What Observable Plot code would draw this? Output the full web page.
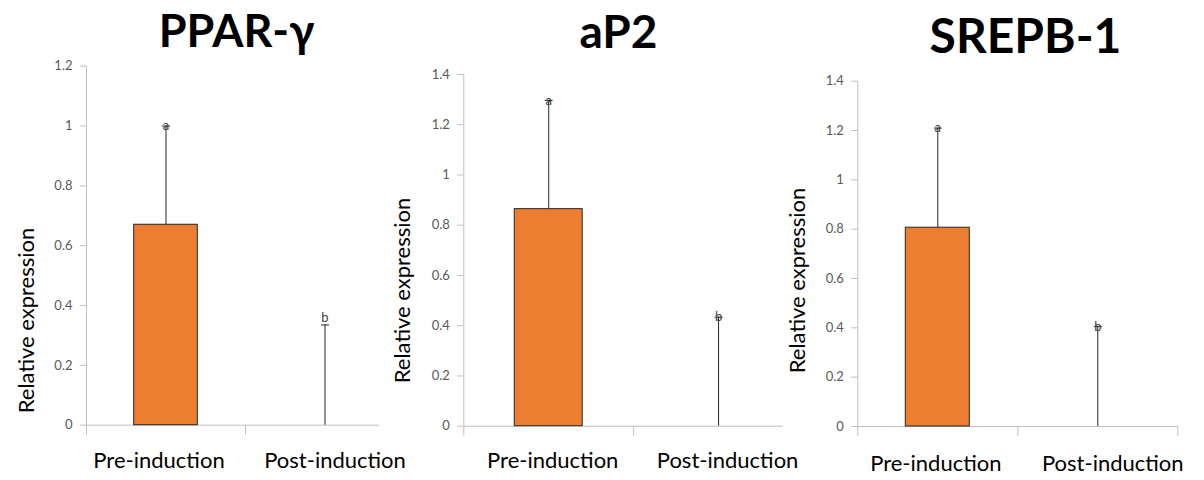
<!DOCTYPE html>
<html><head><meta charset="utf-8">
<script src="https://cdn.jsdelivr.net/npm/d3@7"></script>
<script src="https://cdn.jsdelivr.net/npm/@observablehq/plot@0.6"></script>
<style>
html,body{margin:0;padding:0;background:#fff;}
#root{position:relative;width:1204px;height:480px;overflow:hidden;background:#fff;}
#root svg{position:absolute;top:0;}
</style></head><body><div id="root"></div>
<script>
// ---- data ----
const categories = ["Pre-induction", "Post-induction"];
const genes = ["PPAR-γ", "aP2", "SREPB-1"];
const letters = ["a", "b"];
const pparMean = [0.67, 0];
const pparSd = [0.33, 0.335];
const ap2Mean = [0.864, 0];
const ap2Sd = [0.433, 0.434];
const srepbMean = [0.806, 0];
const srepbSd = [0.404, 0.405];
const pparTicks = [0, 0.2, 0.4, 0.6, 0.8, 1, 1.2];
const ap2Ticks = [0, 0.2, 0.4, 0.6, 0.8, 1, 1.2, 1.4];
const srepbTicks = [0, 0.2, 0.4, 0.6, 0.8, 1, 1.2, 1.4];
const yLabel = "Relative expression";

const panels = [
  {gene: genes[0], mean: pparMean, sd: pparSd, ticks: pparTicks},
  {gene: genes[1], mean: ap2Mean, sd: ap2Sd, ticks: ap2Ticks},
  {gene: genes[2], mean: srepbMean, sd: srepbSd, ticks: srepbTicks}
];

// ---- layout (page pixels) ----
const layout = [
  {left: 0, width: 410, ml: 86, mr: 6, mt: 65.7, mb: 55.3, axisEnd: 1.843, bandTicks: [0, 1],
   title: {x: 236, y: 47, size: 45}, ylab: {x: 26, y: 320}, xlabDx: [-7, 10], xlabDy: 27, letterDy: [0, -7]},
  {left: 380, width: 430, ml: 83.3, mr: 7, mt: 74, mb: 54.3, axisEnd: 1.88, bandTicks: [0, 1],
   title: {x: 618, y: 47, size: 46}, ylab: {x: 402, y: 290}, xlabDx: [4, 9], xlabDy: 26, letterDy: [0, 0]},
  {left: 790, width: 414, ml: 67.3, mr: 26.7, mt: 80.7, mb: 54, axisEnd: 2, bandTicks: [0, 1, 2],
   title: {x: 1025, y: 53, size: 48}, ylab: {x: 797, y: 280}, xlabDx: [-2, 15], xlabDy: 29, letterDy: [0, 0]}
];

const capSymbol = {
  draw(ctx, size) {
    const w = Math.sqrt(size / Math.PI);
    ctx.moveTo(-w, 0);
    ctx.lineTo(w, 0);
  }
};

const root = document.getElementById("root");

panels.forEach((p, k) => {
  const L = layout[k];
  const rows = categories.map((c, i) => ({i, cat: c, mean: p.mean[i], sd: p.sd[i], top: p.mean[i] + p.sd[i], letter: letters[i]}));
  const ymax = p.ticks[p.ticks.length - 1];
  const fx = (px) => px - L.left - L.ml;
  const fy = (py) => py - L.mt;

  const marks = [
    Plot.ruleX([0], {stroke: "#bfbfbf"}),
    Plot.ruleY([0], {x1: 0, x2: L.axisEnd, stroke: "#bfbfbf"}),
    Plot.axisX(L.bandTicks, {tickSize: 10, tickFormat: () => "", stroke: "#bfbfbf", label: null}),
    Plot.axisY(p.ticks, {tickSize: 6, tickPadding: 8, stroke: "#bfbfbf", fill: "#595959", fontSize: 13, tickFormat: d => String(d), label: null}),
    Plot.rectY(rows.filter(d => d.mean > 0), {x1: d => d.i + 0.3, x2: d => d.i + 0.7, y: "mean", fill: "#ed7d31", stroke: "#262626", strokeWidth: 1}),
    Plot.ruleX(rows, {x: d => d.i + 0.5, y1: "mean", y2: "top", stroke: "#262626", strokeWidth: 1}),
    Plot.dot(rows, {x: d => d.i + 0.5, y: "top", symbol: capSymbol, r: 4, stroke: "#262626", fill: "none", strokeWidth: 1})
  ];
  rows.forEach((d, i) => {
    marks.push(Plot.text([d], {x: d => d.i + 0.5, y: "top", text: "letter", fontSize: 13, fill: "#404040", lineAnchor: "middle", dy: L.letterDy[i]}));
    marks.push(Plot.text([d], {x: d => d.i + 0.5, text: "cat", frameAnchor: "bottom", lineAnchor: "top", dy: L.xlabDy, dx: L.xlabDx[i], fontSize: 22, fill: "#000"}));
  });
  marks.push(Plot.text([p.gene], {text: d => d, frameAnchor: "top-left", dx: fx(L.title.x), dy: fy(L.title.y), lineAnchor: "bottom", textAnchor: "middle", fontSize: L.title.size, fontWeight: "bold", fill: "#000"}));
  marks.push(Plot.text([yLabel], {text: d => d, frameAnchor: "top-left", dx: fx(L.ylab.x), dy: fy(L.ylab.y), rotate: -90, lineAnchor: "middle", textAnchor: "middle", fontSize: 22, fill: "#000"}));

  const chart = Plot.plot({
    width: L.width,
    height: 480,
    marginLeft: L.ml, marginRight: L.mr, marginTop: L.mt, marginBottom: L.mb,
    style: {fontFamily: "Lato, 'DejaVu Sans', sans-serif", background: "transparent", overflow: "visible"},
    x: {domain: [0, 2], axis: null},
    y: {domain: [0, ymax], axis: null, label: null},
    marks
  });
  chart.style.position = "absolute";
  chart.style.left = L.left + "px";
  chart.style.top = "0px";
  chart.style.maxWidth = "none";
  root.appendChild(chart);
});
</script>
</body></html>
